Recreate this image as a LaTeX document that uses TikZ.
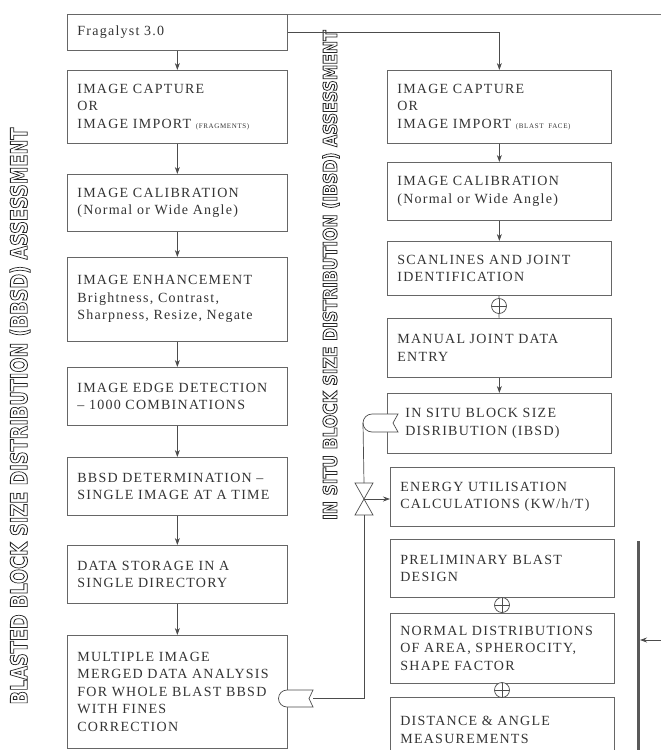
\documentclass[tikz,border=0pt]{standalone}
\usepackage{fontspec}
\usepackage{graphicx}
\setmainfont{Liberation Serif}[LetterSpace=9]
\newfontfamily\bandfont{DejaVu Sans}
\usetikzlibrary{arrows.meta}

% hollow letters for the two side bands
\newcommand{\hollow}[1]{\special{pdf:literal direct 1 Tr 0.9 w}#1\special{pdf:literal direct 0 Tr}}
\newcommand{\tinycap}[1]{{\fontsize{7}{8}\selectfont #1}}

\tikzset{
	box/.style={draw=black!60, line width=0.7pt, anchor=north west, align=left,
		inner xsep=10pt, inner ysep=2pt, text=black!80,
		font=\fontsize{14}{17.5}\selectfont},
	lbox/.style={box, text width=200pt},
	rbox/.style={box, text width=204pt},
	flow/.style={draw=black!70, line width=0.7pt, -{Stealth[length=7pt,width=5pt]}},
	pipe/.style={draw=black!70, line width=0.7pt},
	jsum/.style={circle, draw=black!70, line width=0.7pt, fill=white, minimum size=15pt, inner sep=0pt,
		path picture={\draw[black!70, line width=0.6pt]
			(path picture bounding box.north) -- (path picture bounding box.south)
			(path picture bounding box.west) -- (path picture bounding box.east);}},
	band/.style={rotate=90, text=black!85, inner sep=0pt, font=\bandfont\bfseries},
}

\begin{document}
\begin{tikzpicture}[x=1pt, y=-1pt]
	\useasboundingbox (0,0) rectangle (661,750);
	
	% side bands
	\node[band, font=\bandfont\bfseries\fontsize{23}{23}\selectfont] (bandL) at (20,416)
		{\resizebox{577pt}{\height}{\hollow{BLASTED BLOCK SIZE DISTRIBUTION (BBSD) ASSESSMENT}}};
	\node[band, font=\bandfont\bfseries\fontsize{19}{19}\selectfont] (bandR) at (331,275)
		{\resizebox{490pt}{\height}{\hollow{IN SITU BLOCK SIZE DISTRIBUTION (IBSD) ASSESSMENT}}};
	
	% left column
	\node[lbox, minimum height=36pt] (frag) at (67,14) {Fragalyst 3.0};
	\node[lbox, minimum height=73pt] (capL) at (67,70) {IMAGE CAPTURE\\OR\\IMAGE IMPORT \tinycap{(FRAGMENTS)}};
	\node[lbox, minimum height=57pt] (calL) at (67,174) {IMAGE CALIBRATION\\(Normal or Wide Angle)};
	\node[lbox, minimum height=84pt] (enh) at (67,257) {IMAGE ENHANCEMENT\\Brightness, Contrast,\\Sharpness, Resize, Negate};
	\node[lbox, minimum height=58pt] (edge) at (67,367) {IMAGE EDGE DETECTION\\– 1000 COMBINATIONS};
	\node[lbox, minimum height=58pt] (bbsd) at (67,457) {BBSD DETERMINATION –\\SINGLE IMAGE AT A TIME};
	\node[lbox, minimum height=58pt] (store) at (67,545) {DATA STORAGE IN A\\SINGLE DIRECTORY};
	\node[lbox, minimum height=113pt] (merge) at (67,635) {MULTIPLE IMAGE\\MERGED DATA ANALYSIS\\FOR WHOLE BLAST BBSD\\WITH FINES\\CORRECTION};
	
	\foreach \a/\b in {frag/capL, capL/calL, calL/enh, enh/edge, edge/bbsd, bbsd/store, store/merge}
		\draw[flow] (\a) -- (\b);
	
	% right column
	\node[rbox, minimum height=73pt] (capR) at (387,70) {IMAGE CAPTURE\\OR\\IMAGE IMPORT \tinycap{(BLAST FACE)}};
	\node[rbox, minimum height=58pt] (calR) at (387,162) {IMAGE CALIBRATION\\(Normal or Wide Angle)};
	\node[rbox, minimum height=54pt] (scan) at (387,241) {SCANLINES AND JOINT\\IDENTIFICATION};
	\node[rbox, minimum height=59pt] (manual) at (387,318) {MANUAL JOINT DATA\\ENTRY};
	\node[rbox, minimum height=60pt] (insitu) at (387,393) {\hspace*{8pt}IN SITU BLOCK SIZE\\\hspace*{8pt}DISRIBUTION (IBSD)};
	\node[rbox, minimum height=59pt] (energy) at (390,467) {ENERGY UTILISATION\\CALCULATIONS (KW/h/T)};
	\node[rbox, minimum height=58pt] (prelim) at (390,539) {PRELIMINARY BLAST\\DESIGN};
	\node[rbox, minimum height=70pt] (normal) at (390,613) {NORMAL DISTRIBUTIONS\\OF AREA, SPHEROCITY,\\SHAPE FACTOR};
	\node[rbox, minimum height=65pt] (dist) at (390,697) {DISTANCE \& ANGLE\\MEASUREMENTS};
	
	\draw[flow] (capR) -- (calR);
	\draw[flow] (calR) -- (scan);
	\draw[flow] (manual) -- (insitu);
	
	% summing joints
	\node[jsum] (j1) at (499,306) {};
	\node[jsum] (j2) at (502,605) {};
	\node[jsum] (j3) at (502,690) {};
	\draw[pipe] (scan) -- (j1) -- (manual);
	\draw[pipe] (prelim) -- (j2) -- (normal);
	\draw[pipe] (normal) -- (j3) -- (dist);
	
	% top feed
	\coordinate (topend) at (661,14);
	\draw[pipe, black!55] (frag.north east) -- (topend);
	\draw[flow] (frag.east) -| (capR.north);
	
	% tapes and valve
	\draw[pipe, fill=white] (398,414) -- (372,414) arc[start angle=270, end angle=90, radius=9]
		-- (398,432) -- (393,423) -- cycle;
	\draw[pipe, fill=white] (313,690) -- (287,690) arc[start angle=270, end angle=90, radius=8.5]
		-- (313,707) -- (309,698.5) -- cycle;
	\coordinate (tapeT) at (363,423);
	\coordinate (tapeB) at (313,698.5);
	\coordinate (vc) at (364,499);
	\draw[pipe] (vc) +(-9,-16) -- +(9,-16) -- +(-9,16) -- +(9,16) -- cycle;
	\coordinate (vtop) at (364,483);
	\coordinate (vbot) at (364,515);
	\draw[pipe] (tapeT) -- (vtop);
	\draw[pipe] (tapeB) -| (vbot);
	\draw[flow] (vc) -- (vc -| energy.west);
	
	% bar on the right
	\coordinate (barin) at (661,640);
	\coordinate (barpt) at (640,640);
	\draw[line width=3pt, black!65] (638,541) -- (638,752);
	\draw[flow] (barin) -- (barpt);
	
\end{tikzpicture}
\end{document}
